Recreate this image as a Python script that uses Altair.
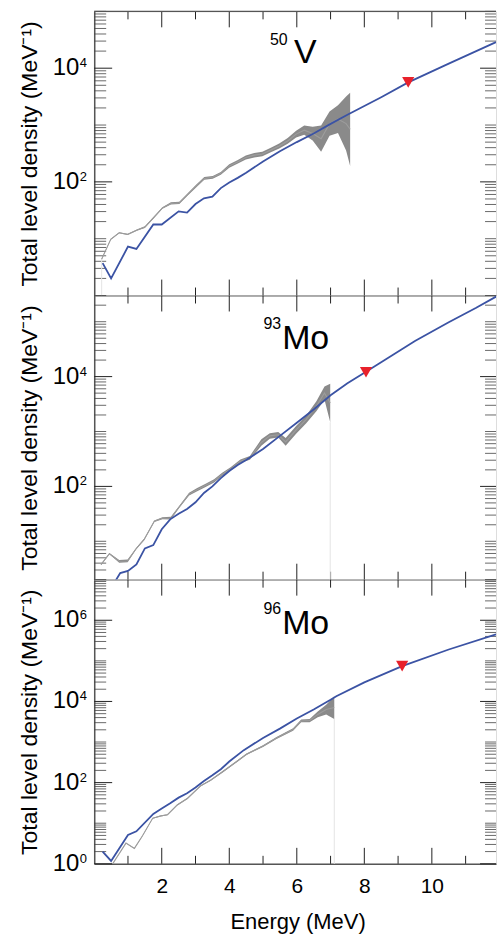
import altair as alt
import pandas as pd

FONT = "Liberation Sans"
BLUE = "#3b53a4"
BAND = "#8a8a8a"
THIN = "#9d9d9d"
RED = "#e8212b"
FRAME = "#555555"

W = 403
H = 285
XDOM = [0, 11.9]

# ---------------- 50V ----------------
v50_model_e = [0.25, 0.5, 1.0, 1.25, 1.75, 2.0, 2.5, 2.75, 3.0, 3.25, 3.5, 3.75, 4.0, 4.25, 4.5,
               5.0, 5.5, 6.0, 6.5, 7.0, 7.5, 8.5, 9.3, 10.5, 11.9]
v50_model_log = [0.57, 0.30, 0.86, 0.82, 1.25, 1.25, 1.48, 1.46, 1.61, 1.71, 1.74, 1.89, 1.99, 2.07, 2.16,
                 2.36, 2.54, 2.70, 2.85, 3.02, 3.18, 3.49, 3.75, 4.08, 4.46]
v50_exp_e = [0.22, 0.49, 0.74, 0.99, 1.26, 1.50, 1.76, 2.02, 2.27, 2.52, 2.77, 3.01, 3.26, 3.51, 3.75,
             4.00, 4.24, 4.49, 4.74, 4.98, 5.23, 5.48, 5.73, 5.98, 6.22, 6.47, 6.72, 6.97, 7.22, 7.46, 7.58]
v50_exp_lo = [0.63, 0.98, 1.095, 1.063, 1.138, 1.19, 1.355, 1.525, 1.60, 1.61, 1.76, 1.895, 2.035, 2.055, 2.125,
              2.25, 2.32, 2.395, 2.43, 2.45, 2.52, 2.585, 2.67, 2.78, 2.83, 2.73, 2.53, 2.81, 2.86, 2.55, 2.28]
v50_exp_hi = [0.65, 1.00, 1.115, 1.087, 1.162, 1.22, 1.385, 1.555, 1.64, 1.65, 1.80, 1.945, 2.085, 2.105, 2.175,
              2.31, 2.38, 2.465, 2.51, 2.53, 2.60, 2.675, 2.77, 2.90, 2.99, 2.97, 2.99, 3.24, 3.35, 3.50, 3.57]
v50_sn_e = [9.3]
v50_sn_log = [3.75]

# ---------------- 93Mo ----------------
mo93_model_e = [0.5, 0.77, 1.0, 1.25, 1.5, 1.75, 2.0, 2.25, 2.5, 2.75, 3.0, 3.25, 3.5, 3.75, 4.0, 4.25, 4.5,
                5.0, 5.5, 6.0, 6.5, 7.0, 7.5, 8.05, 9.5, 10.5, 11.3, 12.0]
mo93_model_log = [0.15, 0.42, 0.46, 0.58, 0.87, 0.93, 1.22, 1.40, 1.50, 1.59, 1.71, 1.88, 2.00, 2.15, 2.28, 2.39, 2.48,
                  2.68, 2.92, 3.16, 3.40, 3.66, 3.88, 4.09, 4.65, 4.99, 5.25, 5.49]
mo93_exp_e = [0.20, 0.45, 0.74, 0.99, 1.24, 1.48, 1.78, 2.02, 2.27, 2.51, 2.81, 3.05, 3.30, 3.55, 3.79,
              4.04, 4.33, 4.61, 4.95, 5.20, 5.45, 5.67, 5.98, 6.28, 6.58, 6.82, 6.99]
mo93_exp_lo = [0.563, 0.762, 0.611, 0.617, 0.849, 1.019, 1.35, 1.40, 1.395, 1.60, 1.835, 1.91, 1.99, 2.07, 2.19,
               2.29, 2.43, 2.485, 2.74, 2.87, 2.89, 2.74, 2.96, 3.15, 3.37, 3.58, 3.17]
mo93_exp_hi = [0.587, 0.786, 0.661, 0.667, 0.879, 1.049, 1.38, 1.44, 1.445, 1.64, 1.885, 1.97, 2.05, 2.13, 2.25,
               2.35, 2.49, 2.555, 2.86, 2.97, 2.99, 2.88, 3.10, 3.29, 3.55, 3.82, 3.87]
mo93_sn_e = [8.05]
mo93_sn_log = [4.08]

# ---------------- 96Mo ----------------
mo96_model_e = [0.25, 0.5, 1.0, 1.25, 1.75, 2.0, 2.25, 2.5, 2.75, 3.0, 3.25, 3.5, 3.75, 4.0, 4.43,
                5.0, 5.5, 6.0, 6.5, 7.0, 7.17, 8.0, 9.12, 10.5, 11.9]
mo96_model_log = [0.30, 0.07, 0.71, 0.80, 1.23, 1.36, 1.49, 1.63, 1.74, 1.88, 2.04, 2.18, 2.33, 2.52, 2.80,
                  3.10, 3.33, 3.58, 3.80, 4.04, 4.13, 4.47, 4.87, 5.28, 5.65]
mo96_exp_e = [0.55, 0.94, 1.19, 1.43, 1.73, 1.97, 2.17, 2.46, 2.76, 3.15, 3.45, 3.84, 4.14, 4.51,
              5.0, 5.40, 5.89, 6.13, 6.38, 6.62, 6.87, 7.11]
mo96_exp_lo = [0.0, 0.50, 0.37, 0.68, 1.108, 1.168, 1.198, 1.435, 1.595, 1.905, 2.045, 2.27, 2.45, 2.68,
               2.88, 3.075, 3.28, 3.485, 3.49, 3.61, 3.68, 3.57]
mo96_exp_hi = [0.01, 0.52, 0.39, 0.70, 1.132, 1.192, 1.222, 1.465, 1.625, 1.935, 2.075, 2.31, 2.49, 2.72,
               2.92, 3.125, 3.34, 3.555, 3.57, 3.75, 3.92, 4.13]
mo96_sn_e = [9.12]
mo96_sn_log = [4.87]

# axis decorations
x_minor_ticks = [1, 3, 5, 7, 9, 11]
x_major_ticks = [2, 4, 6, 8, 10]
x_labels = [2, 4, 6, 8, 10]


def log_ticks(lo, hi):
    vals = []
    for p in range(-1, 9):
        for k in range(1, 10):
            v = k * 10 ** p
            if lo <= v <= hi:
                vals.append(v)
    return vals


def panel(mass, symbol, ydom, label_exps, model_e, model_log, exp_e, exp_lo, exp_hi,
          sn_e, sn_log, cut_e, cut_at_start, bottom=False, top=False):
    ysc = alt.Scale(type="log", domain=ydom)
    xsc = alt.Scale(domain=XDOM, nice=False, zero=False)

    model = pd.DataFrame({"e": model_e, "v": [10 ** a for a in model_log]})
    exp = pd.DataFrame({"e": exp_e,
                        "lo": [10 ** a for a in exp_lo],
                        "hi": [10 ** a for a in exp_hi],
                        "c": [10 ** ((a + b) / 2) for a, b in zip(exp_lo, exp_hi)]})
    sn = pd.DataFrame({"e": sn_e, "v": [10 ** a for a in sn_log]})
    idx = 0 if cut_at_start else len(exp_e) - 1
    cut = pd.DataFrame({"e": [cut_e], "v": [10 ** exp_lo[idx]]})

    ticks = log_ticks(ydom[0], ydom[1])
    major_vals = [10 ** int(s) for s in label_exps]
    tmaj = pd.DataFrame({"t": [t for t in ticks if t in major_vals]})
    tmin = pd.DataFrame({"t": [t for t in ticks if t not in major_vals]})
    labs = pd.DataFrame({"v": major_vals, "exp": label_exps})
    xmin = pd.DataFrame({"e": x_minor_ticks})
    xmaj = pd.DataFrame({"e": x_major_ticks})

    if bottom:
        xaxis = alt.Axis(title="Energy (MeV)", values=x_labels, ticks=False, grid=False,
                         labelPadding=12, labelFont=FONT, labelFontSize=21, labelColor="black",
                         domainColor=FRAME, domainWidth=1.5,
                         titleFont=FONT, titleFontSize=22, titleFontWeight="normal", titleColor="black",
                         titleX=204, titleY=65, titleBaseline="alphabetic", titleAlign="center")
    else:
        xaxis = alt.Axis(title=None, labels=False, ticks=False, grid=False,
                         domainColor=FRAME, domainWidth=1.5)
    yaxis = alt.Axis(title="Total level density (MeV⁻¹)", labels=False, ticks=False, grid=False,
                     domainColor=FRAME, domainWidth=1.5,
                     titleFont=FONT, titleFontSize=23, titleFontWeight="normal", titleColor="black",
                     titleX=-64.5, titleY=H / 2, titleAngle=270, titleAlign="center",
                     titleBaseline="middle")

    # every layer carries the same axis definition so the merged axis keeps it
    X = lambda f: alt.X(f, scale=xsc, axis=xaxis)
    Y = lambda f: alt.Y(f, scale=ysc, axis=yaxis)

    layers = []
    # tick marks, drawn inward on all four sides
    layers.append(alt.Chart(tmaj).mark_rule(color="#222", strokeWidth=1).encode(
        y=Y("t:Q"), x=alt.value(0), x2=alt.value(18)))
    layers.append(alt.Chart(tmin).mark_rule(color="#444", strokeWidth=0.8).encode(
        y=Y("t:Q"), x=alt.value(0), x2=alt.value(12)))
    layers.append(alt.Chart(tmaj).mark_rule(color="#222", strokeWidth=1).encode(
        y=Y("t:Q"), x=alt.value(W), x2=alt.value(W - 16)))
    layers.append(alt.Chart(tmin).mark_rule(color="#444", strokeWidth=0.8).encode(
        y=Y("t:Q"), x=alt.value(W), x2=alt.value(W - 11)))
    for df, ln in ((xmaj, 16), (xmin, 8)):
        layers.append(alt.Chart(df).mark_rule(color="#222", strokeWidth=1).encode(
            x=X("e:Q"), y=alt.value(H), y2=alt.value(H - ln)))
        layers.append(alt.Chart(df).mark_rule(color="#222", strokeWidth=1).encode(
            x=X("e:Q"), y=alt.value(0), y2=alt.value(ln)))

    # faint marker where the measured data stop
    layers.append(alt.Chart(cut).mark_rule(color="#e4e4e4", strokeWidth=1).encode(
        x=X("e:Q"), y=Y("v:Q"), y2=alt.value(H)))
    # measured level density band
    layers.append(alt.Chart(exp).mark_area(color=BAND, clip=True).encode(
        x=X("e:Q"), y=Y("lo:Q"), y2="hi:Q"))
    layers.append(alt.Chart(exp).mark_line(color=THIN, strokeWidth=1.1, clip=True).encode(
        x=X("e:Q"), y=Y("c:Q")))
    # model curve
    layers.append(alt.Chart(model).mark_line(color=BLUE, strokeWidth=1.8, clip=True).encode(
        x=X("e:Q"), y=Y("v:Q")))
    # level density at the neutron separation energy
    layers.append(alt.Chart(sn).mark_point(shape="triangle-down", filled=True, color=RED,
                                           size=150, opacity=1).encode(
        x=X("e:Q"), y=Y("v:Q")))
    # tick labels 10^n
    layers.append(alt.Chart(labs).mark_text(align="right", baseline="middle", font=FONT,
                                            fontSize=24, color="black").encode(
        y=Y("v:Q"), x=alt.value(-15), text=alt.value("10")))
    layers.append(alt.Chart(labs).mark_text(align="left", baseline="alphabetic", font=FONT,
                                            fontSize=13, color="black", dy=-1).encode(
        y=Y("v:Q"), x=alt.value(-14.5), text="exp:N"))
    # nucleus name
    name = pd.DataFrame({"mass": [mass], "sym": [symbol]})
    layers.append(alt.Chart(name).mark_text(align="right", baseline="alphabetic", font=FONT,
                                            fontSize=16, color="black").encode(
        x=alt.value(194 if symbol == "V" else 187.5), y=alt.value(34), text="mass:N"))
    layers.append(alt.Chart(name).mark_text(align="left", baseline="alphabetic", font=FONT,
                                            fontSize=34, color="black").encode(
        x=alt.value(200.5 if symbol == "V" else 188.5), y=alt.value(52 if symbol == "V" else 54),
        text="sym:N"))
    if top:
        layers.append(alt.Chart(name).mark_rule(color=FRAME, strokeWidth=1.5).encode(
            x=alt.value(0), x2=alt.value(W), y=alt.value(0)))

    return alt.layer(*layers).properties(width=W, height=H)


p1 = panel("50", "V", [1, 1e5], ["2", "4"], v50_model_e, v50_model_log,
           v50_exp_e, v50_exp_lo, v50_exp_hi, v50_sn_e, v50_sn_log, 0.22, True, top=True)
p2 = panel("93", "Mo", [2, 3e5], ["2", "4"], mo93_model_e, mo93_model_log,
           mo93_exp_e, mo93_exp_lo, mo93_exp_hi, mo93_sn_e, mo93_sn_log, 6.99, False)
p3 = panel("96", "Mo", [1, 1e7], ["0", "2", "4", "6"], mo96_model_e, mo96_model_log,
           mo96_exp_e, mo96_exp_lo, mo96_exp_hi, mo96_sn_e, mo96_sn_log, 7.11, False, bottom=True)

chart = alt.vconcat(p1, p2, p3, spacing=0, bounds="flush").resolve_scale(
    y="independent"
).properties(
    padding={"left": 18.5, "top": 8, "right": 0, "bottom": 0}
).configure_view(strokeWidth=0).configure(background="white")

chart.save("out.html", embed_options={"renderer": "svg", "actions": False})
